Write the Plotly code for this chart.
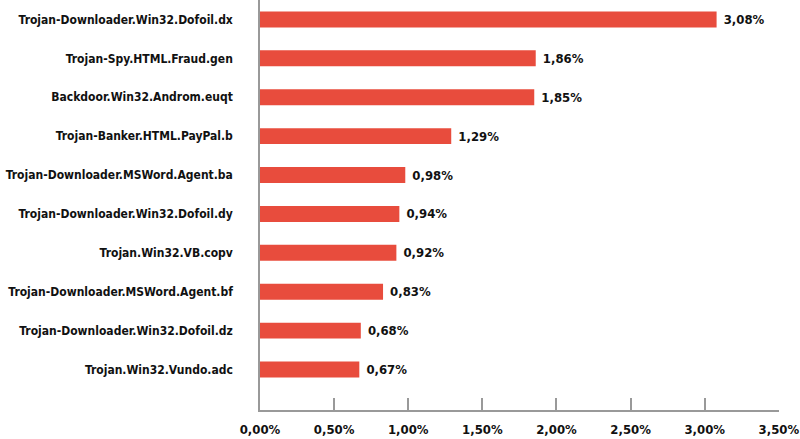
import plotly.graph_objects as go

names = [
    "Trojan-Downloader.Win32.Dofoil.dx",
    "Trojan-Spy.HTML.Fraud.gen",
    "Backdoor.Win32.Androm.euqt",
    "Trojan-Banker.HTML.PayPal.b",
    "Trojan-Downloader.MSWord.Agent.ba",
    "Trojan-Downloader.Win32.Dofoil.dy",
    "Trojan.Win32.VB.copv",
    "Trojan-Downloader.MSWord.Agent.bf",
    "Trojan-Downloader.Win32.Dofoil.dz",
    "Trojan.Win32.Vundo.adc",
]
shares = [0.0308, 0.0186, 0.0185, 0.0129, 0.0098, 0.0094, 0.0092, 0.0083, 0.0068, 0.0067]
ticks = [0, 0.005, 0.01, 0.015, 0.02, 0.025, 0.03, 0.035]

font_name = "DejaVu Sans Condensed, sans-serif"

fig = go.Figure()
fig.add_trace(go.Bar(
    x=shares, y=names, orientation="h",
    marker=dict(color="#E84C3D", line=dict(width=0)),
    texttemplate=" %{x:.2%}", textposition="outside",
    constraintext="none",
    textfont=dict(family=font_name, size=13, color="#111111", weight="bold"),
    cliponaxis=False, width=0.41,
))

fig.update_layout(
    width=800, height=439,
    margin=dict(l=260, r=21, t=0, b=29),
    plot_bgcolor="white", paper_bgcolor="white",
    separators=", ",
    font=dict(family=font_name, size=13, color="#111111"),
    showlegend=False,
)
fig.update_xaxes(
    range=[0, 0.03501], tickvals=ticks, tickformat=".2%",
    showgrid=False, zeroline=False, automargin=False,
    showline=True, linecolor="#999999", linewidth=1.5,
    ticks="inside", ticklen=12, tickcolor="#999999", tickwidth=1.5,
    ticklabelstandoff=7, ticklabeloverflow="allow",
    tickfont=dict(family=font_name, size=13, color="#111111", weight="bold"),
)
fig.update_yaxes(
    type="category", categoryorder="array", categoryarray=names,
    range=[10.04, -0.5],
    showgrid=False, zeroline=False, automargin=False,
    showline=True, linecolor="#999999", linewidth=1.5,
    ticks="", ticklabelstandoff=23,
    tickfont=dict(family=font_name, size=12, color="#111111", weight="bold"),
)

fig.write_html("out.html", config={"displayModeBar": False},
               post_script="document.body.style.margin='0';")
